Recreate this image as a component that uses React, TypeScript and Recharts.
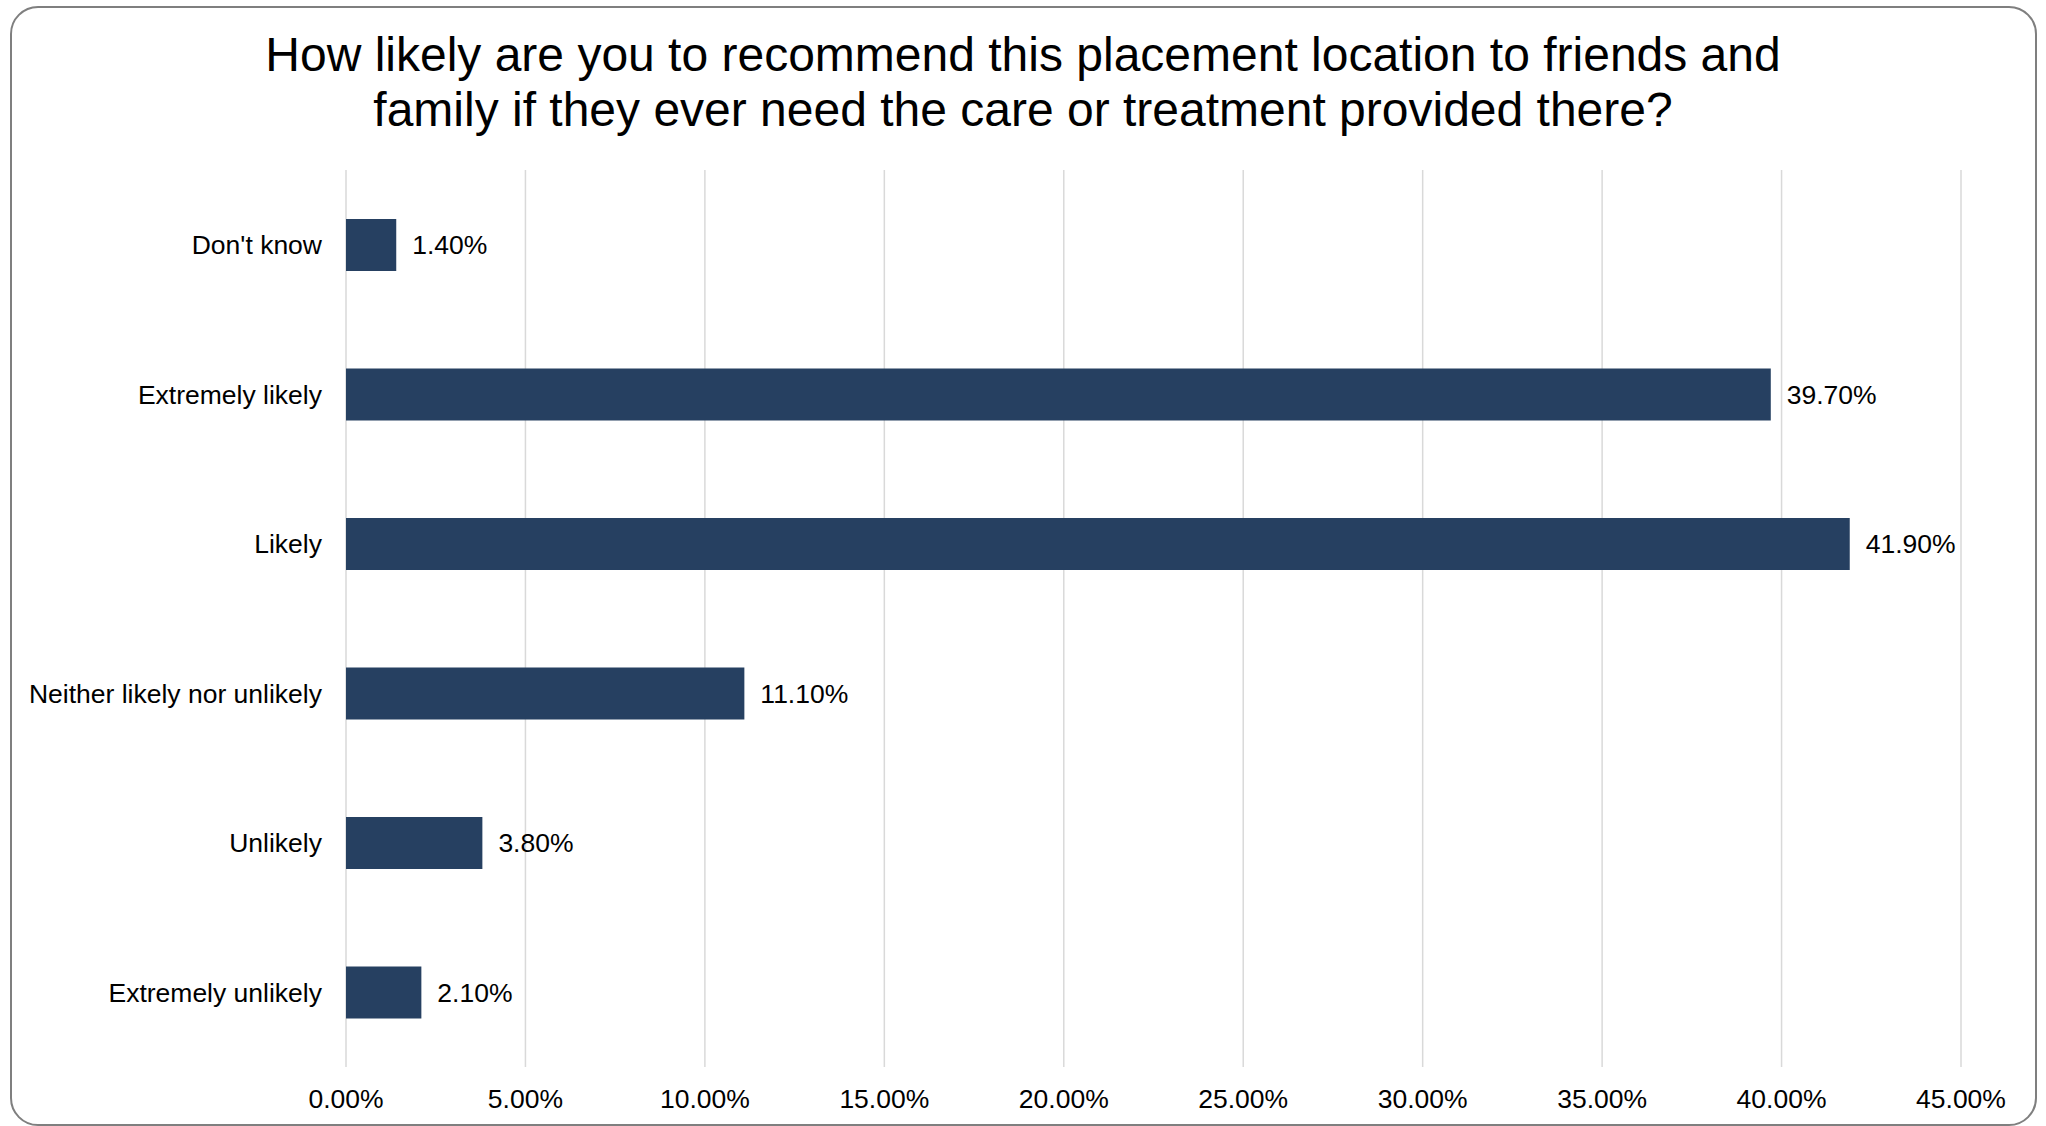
import { BarChart, Bar, XAxis, YAxis, CartesianGrid, LabelList } from "recharts";

const categories = [
  "Don't know",
  "Extremely likely",
  "Likely",
  "Neither likely nor unlikely",
  "Unlikely",
  "Extremely unlikely",
];
const shares = [1.4, 39.7, 41.9, 11.1, 3.8, 2.1];
const xTicks = [0, 5, 10, 15, 20, 25, 30, 35, 40, 45];

const titleLines = [
  "How likely are you to recommend this placement location to friends and",
  "family if they ever need the care or treatment provided there?",
];

const font = '"Liberation Sans", Arial, sans-serif';
const barColor = "#264061";

const data = categories.map((name, i) => ({ name, value: shares[i] }));

const pct = (v: number) => `${Number(v).toFixed(2)}%`;

export default function App() {
  return (
    <div
      style={{
        position: "fixed",
        left: 0,
        top: 0,
        width: 2046,
        height: 1126,
        background: "#fff",
        fontFamily: font,
      }}
    >
      <div
        style={{
          position: "absolute",
          left: 10,
          top: 6,
          width: 2023,
          height: 1116,
          border: "2px solid #7f7f7f",
          borderRadius: 28,
        }}
      />
      <div
        style={{
          position: "absolute",
          left: 0,
          top: 27,
          width: 2046,
          textAlign: "center",
          fontSize: 48,
          lineHeight: "55px",
          color: "#000",
        }}
      >
        {titleLines.map((l) => (
          <div key={l}>{l}</div>
        ))}
      </div>
      <div style={{ position: "absolute", left: 0, top: 0 }}>
        <BarChart
          width={2046}
          height={1126}
          data={data}
          layout="vertical"
          margin={{ top: 170, right: 85, bottom: 0, left: 0 }}
          barSize={52}
        >
          <CartesianGrid
            horizontal={false}
            stroke="#d9d9d9"
            strokeWidth={1.5}
          />
          <XAxis
            type="number"
            domain={[0, 45]}
            ticks={xTicks}
            tickFormatter={pct}
            axisLine={false}
            tickLine={false}
            tickSize={0}
            tickMargin={22}
            height={59}
            tick={{ fill: "#000", fontSize: 26.5, fontFamily: font }}
            interval={0}
          />
          <YAxis
            type="category"
            dataKey="name"
            width={346}
            axisLine={false}
            tickLine={false}
            tickSize={0}
            tickMargin={24}
            tick={{ fill: "#000", fontSize: 26.5, fontFamily: font }}
            interval={0}
          />
          <Bar dataKey="value" fill={barColor} isAnimationActive={false}>
            <LabelList
              dataKey="value"
              position="right"
              offset={16}
              formatter={(v: any) => pct(v)}
              style={{ fill: "#000", fontSize: 26.5, fontFamily: font }}
            />
          </Bar>
        </BarChart>
      </div>
    </div>
  );
}
